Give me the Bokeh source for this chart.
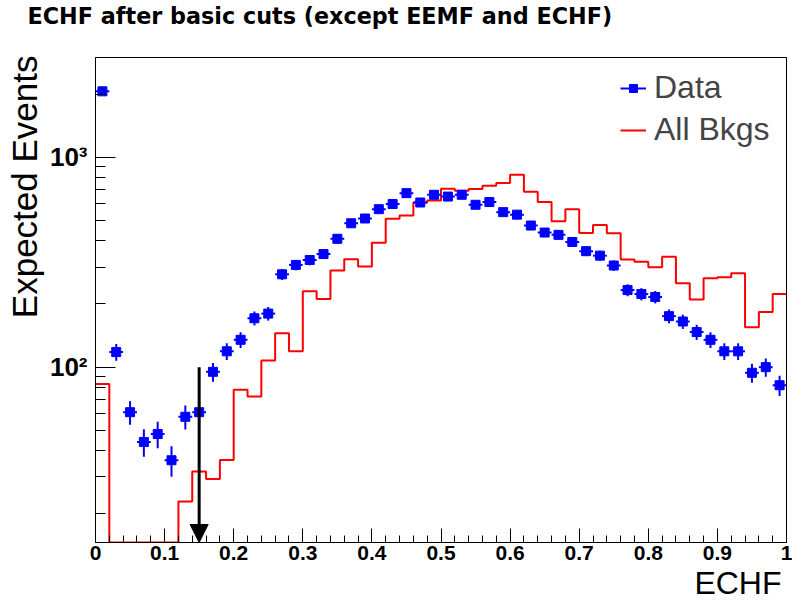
import numpy as np
from bokeh.plotting import figure
from bokeh.models import (Range1d, SingleIntervalTicker, FixedTicker, CustomJSTickFormatter,
                          Title, Arrow, NormalHead, Legend, LegendItem, ColumnDataSource)
from bokeh.embed import file_html
from bokeh.resources import INLINE

# ---------------- data ----------------
title_text = "ECHF after basic cuts (except EEMF and ECHF)"
x_title = "ECHF"
y_title = "Expected Events"

bin_low = 0.0
bin_high = 1.0
n_bins = 50

data_counts = [2063, 118, 61, 44, 48, 36, 58, 61, 95, 119,
               135, 171, 180, 277, 307, 324, 346, 409, 485, 511,
               566, 599, 675, 609, 663, 650, 663, 594, 612, 548,
               533, 473, 438, 427, 395, 357, 340, 305, 233, 223,
               216, 175, 165, 147, 135, 119, 119, 94, 100, 82]

bkg_counts = [83.2, 0, 0, 0, 0, 0, 22.9, 31.8, 29.3, 36.1,
              78, 72.4, 107.7, 145, 119, 230, 211, 289, 327, 302,
              392, 509, 528, 609, 622, 708, 693, 706, 732, 754,
              826, 685, 612, 496, 566, 436, 476, 435, 326, 318,
              299, 336, 251, 210, 265, 268, 280, 155, 183, 223]

legend_labels = ["Data", "All Bkgs"]
cut_value = 0.15
cut_arrow_top = 100

y_lo, y_hi = 14.6, 2990

BLUE = "#0000ff"
RED = "#ff0000"
FONT = "Liberation Sans"

# ---------------- derived ----------------
edges = np.linspace(bin_low, bin_high, n_bins + 1)
centers = 0.5 * (edges[:-1] + edges[1:])
half_w = 0.5 * (edges[1:] - edges[:-1])
d = np.array(data_counts, dtype=float)
err = np.sqrt(d)

src = ColumnDataSource(dict(x=centers, y=d, lo=d - err, hi=d + err,
                            xl=centers - half_w, xr=centers + half_w))

b = np.maximum(np.array(bkg_counts, dtype=float), y_lo)
step_x = list(edges)
step_y = list(b) + [b[-1]]

p = figure(width=792, height=611, x_range=Range1d(bin_low, bin_high),
           y_range=Range1d(y_lo, y_hi), y_axis_type="log",
           output_backend="svg", toolbar_location=None,
           min_border_left=95, min_border_right=6, min_border_top=57, min_border_bottom=69)
p.xgrid.visible = False
p.ygrid.visible = False
p.outline_line_color = "black"
p.outline_line_width = 1
p.background_fill_color = "white"
p.border_fill_color = "white"

# title (top-left); the trailing empty line lifts it to the top of its panel
p.title.text = title_text + "\n"
p.title.align = "left"
p.title.vertical_align = "top"
p.title.offset = -68
p.title.standoff = 2
p.title.text_font = "DejaVu Sans"
p.title.text_font_style = "bold"
p.title.text_font_size = "22.3px"
p.title.text_color = "black"

# x axis
xa = p.xaxis[0]
xa.ticker = SingleIntervalTicker(interval=0.1, num_minor_ticks=5)
xa.formatter = CustomJSTickFormatter(code="return String(Number(tick.toFixed(2)));")
xa.major_tick_in = 14
xa.major_tick_out = 0
xa.minor_tick_in = 7
xa.minor_tick_out = 0
xa.axis_line_color = "black"
xa.major_tick_line_color = "black"
xa.minor_tick_line_color = "black"
xa.major_label_text_font = FONT
xa.major_label_text_font_style = "bold"
xa.major_label_text_font_size = "21px"
xa.major_label_text_color = "black"
xa.major_label_standoff = 3

# y axis
ya = p.yaxis[0]
ya.ticker = FixedTicker(ticks=[100, 1000],
                        minor_ticks=[m * 10 ** k for k in (1, 2, 3) for m in range(2, 10)])
ya.formatter = CustomJSTickFormatter(code="""
const sup = {"0":"\u2070","1":"\u00b9","2":"\u00b2","3":"\u00b3","4":"\u2074"};
const e = Math.round(Math.log10(tick));
return "10" + String(e).split("").map(c => sup[c]).join("");
""")
ya.major_tick_in = 20
ya.major_tick_out = 0
ya.minor_tick_in = 10
ya.minor_tick_out = 0
ya.axis_line_color = "black"
ya.major_tick_line_color = "black"
ya.minor_tick_line_color = "black"
ya.major_label_text_font = FONT
ya.major_label_text_font_style = "bold"
ya.major_label_text_font_size = "26px"
ya.major_label_text_color = "black"
ya.major_label_standoff = 8

# axis titles as side-panel titles, aligned to the axis ends
p.add_layout(Title(text=y_title, align="right", standoff=5, offset=-2, text_font=FONT,
                   text_font_style="normal", text_font_size="35px", text_color="black"), "left")
p.add_layout(Title(text=x_title, align="right", standoff=0, offset=5, text_font=FONT,
                   text_font_style="normal", text_font_size="32px", text_color="black"), "below")

# background histogram
r_bkg = p.step(x=step_x, y=step_y, mode="after", line_color=RED, line_width=2)

# data points with errors
r_ev = p.segment(x0="x", y0="lo", x1="x", y1="hi", source=src, line_color=BLUE, line_width=2)
r_eh = p.segment(x0="xl", y0="y", x1="xr", y1="y", source=src, line_color=BLUE, line_width=2)
r_pts = p.scatter("x", "y", source=src, marker="square", size=9, color=BLUE)

# cut arrow
p.add_layout(Arrow(end=NormalHead(size=18, fill_color="black", line_color="black"),
                   x_start=cut_value, y_start=cut_arrow_top, x_end=cut_value, y_end=y_lo,
                   line_color="black", line_width=3))

# legend
legend = Legend(items=[LegendItem(label=legend_labels[0], renderers=[r_eh, r_pts]),
                       LegendItem(label=legend_labels[1], renderers=[r_bkg])],
                location=(525, 394), margin=0, padding=0, spacing=5,
                glyph_width=26, glyph_height=20, label_standoff=8,
                label_text_font=FONT, label_text_font_size="32px",
                border_line_alpha=0, background_fill_alpha=0)
p.add_layout(legend)

open("out.html", "w").write(file_html(p, INLINE))
